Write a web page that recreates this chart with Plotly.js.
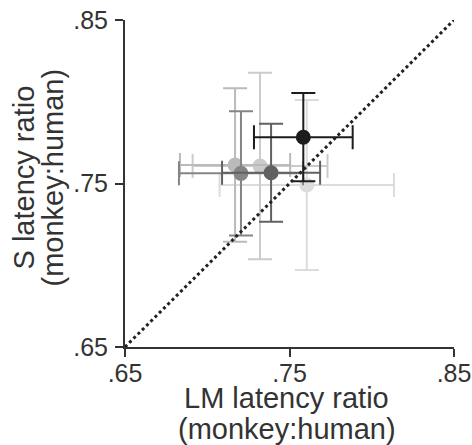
<!DOCTYPE html>
<html>
<head>
<meta charset="utf-8">
<script src="https://cdn.plot.ly/plotly-3.0.1.min.js"></script>
<style>html,body{margin:0;padding:0;background:#fff;}#chart{width:472px;height:445px;}</style>
</head>
<body>
<div id="chart"></div>
<script>
// LM (x) and S (y) latency ratios (monkey:human), drawn lightest to darkest
const lmRatio = [0.7605, 0.7321, 0.7169, 0.7205, 0.7388, 0.7584];
const lmErr   = [0.053, 0.041, 0.0335, 0.0377, 0.0298, 0.030];
const sRatio  = [0.7491, 0.7607, 0.7613, 0.7562, 0.7566, 0.7783];
const sErr    = [0.052, 0.057, 0.047, 0.038, 0.030, 0.027];
const shades  = ['#dcdcdc', '#cbcbcb', '#bababa', '#858585', '#616161', '#1c1c1c'];
const tickVals = [0.65, 0.75, 0.85];
const tickText = ['.65', '.75', '.85'];
const unity = [0.65, 0.85];
const xTitleLines = ['LM latency ratio', '(monkey:human)'];
const yTitleLines = ['S latency ratio', '(monkey:human)'];

const traces = lmRatio.map((x, i) => ({
  type: 'scatter', mode: 'markers',
  x: [x], y: [sRatio[i]],
  marker: {size: 15, color: shades[i]},
  error_x: {type: 'data', array: [lmErr[i]], color: shades[i], thickness: 2, width: 12},
  error_y: {type: 'data', array: [sErr[i]], color: shades[i], thickness: 2, width: 12},
  showlegend: false, hoverinfo: 'skip'
}));
traces.push({
  type: 'scatter', mode: 'lines', x: unity, y: unity,
  line: {color: '#222', width: 3, dash: 'dot'},
  showlegend: false, hoverinfo: 'skip'
});

const font = 'Liberation Sans, Arial, sans-serif';
const titleFont = {family: font, size: 29, color: '#333'};
const axisCommon = {
  range: [0.65, 0.85], tickvals: tickVals, ticktext: tickText,
  showgrid: false, zeroline: false, showline: true, linecolor: '#333', linewidth: 2,
  ticks: 'outside', ticklen: 8, tickwidth: 2, tickcolor: '#333',
  tickfont: {family: font, size: 25, color: '#333'},
  fixedrange: true
};

const layout = {
  width: 472, height: 445,
  margin: {l: 125, r: 18, t: 20, b: 98},
  paper_bgcolor: '#fff', plot_bgcolor: '#fff',
  xaxis: Object.assign({}, axisCommon, {ticklabelstandoff: -5}),
  yaxis: Object.assign({}, axisCommon, {ticklabelstandoff: 2}),
  annotations: [
    {text: xTitleLines[0], xref: 'paper', yref: 'paper', x: 0.5, y: 0, xanchor: 'center', yanchor: 'top',
     xshift: -3, yshift: -33, showarrow: false, font: titleFont},
    {text: xTitleLines[1], xref: 'paper', yref: 'paper', x: 0.5, y: 0, xanchor: 'center', yanchor: 'top',
     xshift: -3, yshift: -64, showarrow: false, font: titleFont},
    {text: yTitleLines[0], xref: 'paper', yref: 'paper', x: 0, y: 0.5, xanchor: 'left', yanchor: 'middle',
     xshift: -120, yshift: 6, textangle: -90, showarrow: false, font: titleFont},
    {text: yTitleLines[1], xref: 'paper', yref: 'paper', x: 0, y: 0.5, xanchor: 'left', yanchor: 'middle',
     xshift: -91, yshift: 6, textangle: -90, showarrow: false, font: titleFont}
  ]
};

Plotly.newPlot('chart', traces, layout, {staticPlot: true, displayModeBar: false});
</script>
</body>
</html>
